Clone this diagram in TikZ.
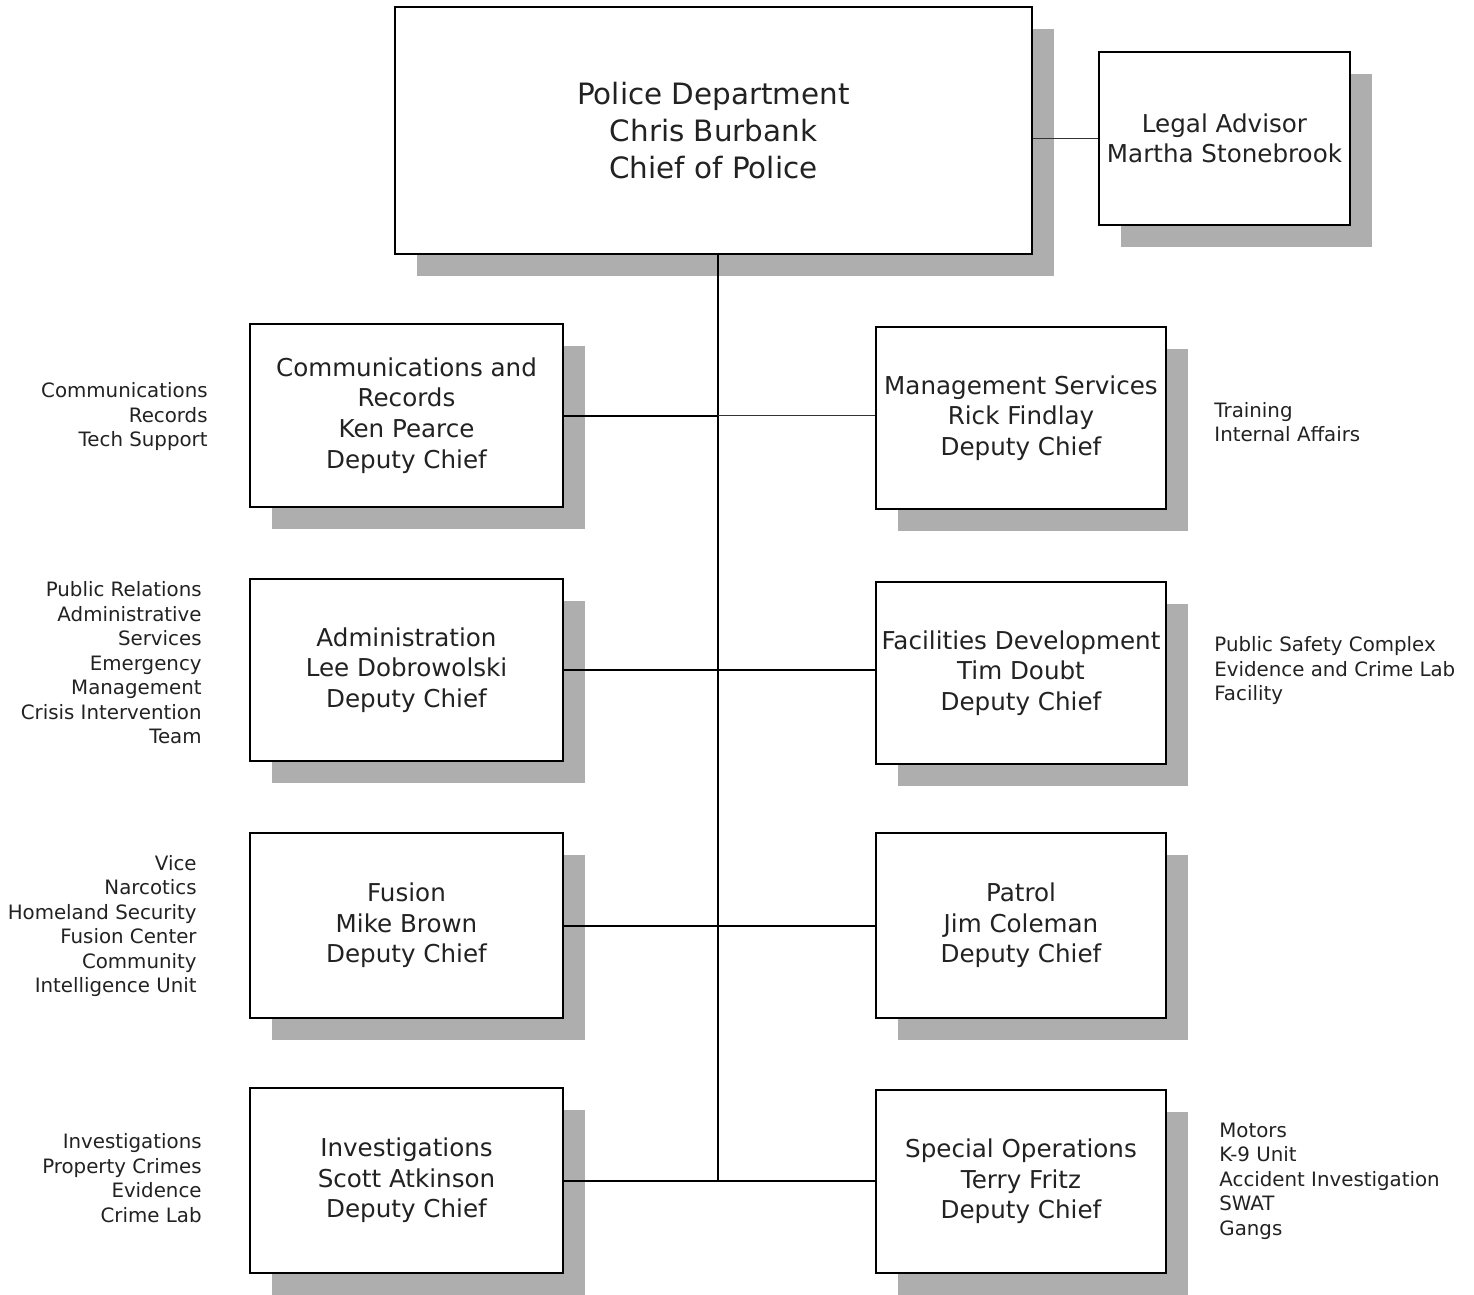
\documentclass[tikz,border=0pt]{standalone}
\usepackage{fontspec}
\setmainfont{DejaVu Sans}
\usetikzlibrary{shadows}
\definecolor{ink}{HTML}{222222}
\definecolor{shade}{HTML}{AEAEAE}
\begin{document}
\begin{tikzpicture}[x=0.5pt,y=-0.5pt,
  orgbox/.style={draw=black, line width=1.2pt, fill=white, text=ink, align=center,
    inner sep=0pt,
    drop shadow={shadow xshift=11pt, shadow yshift=-11pt, fill=shade, opacity=1}},
  chiefbox/.style={orgbox, font=\fontsize{14.7}{18.5}\selectfont},
  depbox/.style={orgbox, font=\fontsize{12.3}{15.3}\selectfont},
  sidenote/.style={text=ink, inner sep=0pt, font=\fontsize{9.9}{12.25}\selectfont},
  link/.style={draw=black, line width=1pt},
  thinlink/.style={draw=black!80, line width=0.5pt}]
\useasboundingbox[fill=white] (0,0) rectangle (1474,1295);

% head of department and legal advisor
\node[chiefbox, minimum width=318.5pt, minimum height=123.5pt] (chief) at (713.5,130.5)
  {Police Department\\Chris Burbank\\Chief of Police};
\node[depbox, minimum width=125.5pt, minimum height=86.5pt] (legal) at (1224.5,138.5)
  {Legal Advisor\\Martha Stonebrook};

% deputy chiefs, left column
\node[depbox, minimum width=156.5pt, minimum height=91.5pt] (comm) at (406.5,415.5)
  {Communications and\\Records\\Ken Pearce\\Deputy Chief};
\node[depbox, minimum width=156.5pt, minimum height=91pt] (admin) at (406.5,670)
  {Administration\\Lee Dobrowolski\\Deputy Chief};
\node[depbox, minimum width=156.5pt, minimum height=92.5pt] (fusion) at (406.5,925.5)
  {Fusion\\Mike Brown\\Deputy Chief};
\node[depbox, minimum width=156.5pt, minimum height=92.5pt] (invest) at (406.5,1180.5)
  {Investigations\\Scott Atkinson\\Deputy Chief};

% deputy chiefs, right column
\node[depbox, minimum width=145pt, minimum height=91pt] (mgmt) at (1021,418)
  {Management Services\\Rick Findlay\\Deputy Chief};
\node[depbox, minimum width=145pt, minimum height=91pt] (facil) at (1021,673)
  {Facilities Development\\Tim Doubt\\Deputy Chief};
\node[depbox, minimum width=145pt, minimum height=92.5pt] (patrol) at (1021,925.5)
  {Patrol\\Jim Coleman\\Deputy Chief};
\node[depbox, minimum width=145pt, minimum height=91.5pt] (specops) at (1021,1181.5)
  {Special Operations\\Terry Fritz\\Deputy Chief};

% units under each deputy chief
\node[sidenote, anchor=east, align=right] (communits) at (208,417)
  {Communications\\Records\\Tech Support};
\node[sidenote, anchor=east, align=right] (adminunits) at (202,663)
  {Public Relations\\Administrative\\Services\\Emergency\\Management\\Crisis Intervention\\Team};
\node[sidenote, anchor=east, align=right] (fusionunits) at (197,926)
  {Vice\\Narcotics\\Homeland Security\\Fusion Center\\Community\\Intelligence Unit};
\node[sidenote, anchor=east, align=right] (investunits) at (202,1178)
  {Investigations\\Property Crimes\\Evidence\\Crime Lab};
\node[sidenote, anchor=west, align=left] (mgmtunits) at (1214,422)
  {Training\\Internal Affairs};
\node[sidenote, anchor=west, align=left] (facilunits) at (1214,671)
  {Public Safety Complex\\Evidence and Crime Lab\\Facility};
\node[sidenote, anchor=west, align=left] (specunits) at (1219,1181)
  {Motors\\K-9 Unit\\Accident Investigation\\SWAT\\Gangs};

% reporting lines
\coordinate (trunkend) at (718,1182);
\draw[thinlink] (chief.east |- legal.west) -- (legal.west);
\draw[link, line width=0.75pt] (chief.south -| trunkend) -- (trunkend);
\draw[link] (comm.east) -- (comm.east -| trunkend);
\draw[thinlink] (comm.east -| trunkend) -- (comm.east -| mgmt.west);
\draw[link] (admin.east) -- (admin.east -| facil.west);
\draw[link] (fusion.east) -- (fusion.east -| patrol.west);
\draw[link] (invest.east) -- (invest.east -| specops.west);
\end{tikzpicture}
\end{document}
